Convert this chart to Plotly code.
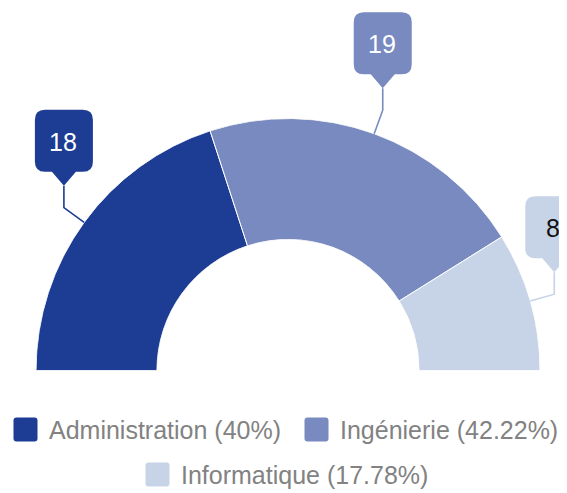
import math
import plotly.graph_objects as go

# ---- data ----
categories = ["Administration", "Ingénierie", "Informatique"]
values = [18, 19, 8]
colors = ["#1d3c94", "#788abf", "#c7d4e8"]
label_text_colors = ["#ffffff", "#ffffff", "#111111"]

# page is 567x493; the page body adds an 8px offset, so figure pixel 0 sits at page pixel 8
OFF = 8
PW, PH = 567, 493
W, H = PW - OFF, PH - OFF
total = sum(values)

# half-donut geometry (page pixels)
cx, cy = 288.0, 370.5
R = 252.0
hole = 0.52

# angular positions derived from the data (0 = left, clockwise over the top, 180 = right)
cum = []
s = 0
for v in values:
    s += v
    cum.append(s)
thetas = [(c - v / 2) / total * 180 for c, v in zip(cum, values)]
widths = [v / total * 180 for v in values]

fig = go.Figure()
fig.add_trace(go.Barpolar(
    r=[1] * len(values),
    theta=thetas,
    width=widths,
    marker=dict(color=colors, line=dict(color="white", width=1)),
    hoverinfo="skip",
    showlegend=False,
))

# hidden pixel-space cartesian axes (page pixels) for callouts and legend
fig.add_trace(go.Scatter(x=[OFF, OFF + W], y=[OFF, OFF + H], mode="markers",
                         marker=dict(opacity=0), hoverinfo="skip", showlegend=False))

shapes = []
annotations = []
font_family = "Liberation Sans, Arial, sans-serif"

# callouts
ext, vert, ptr, bh, bw, rad, phw = 25, 22, 14, 62, 58, 10, 12
for t, v, col, tc in zip(thetas, values, colors, label_text_colors):
    phi = math.radians(180 - t)
    ax_ = cx + R * math.cos(phi)
    ay_ = cy - R * math.sin(phi)
    ex = cx + (R + ext) * math.cos(phi)
    ey = cy - (R + ext) * math.sin(phi)
    apex = ey - vert
    bot = apex - ptr
    top = bot - bh
    x0, x1 = ex - bw / 2, ex + bw / 2
    shapes.append(dict(type="path", xref="x", yref="y",
                       path=f"M{ax_},{ay_} L{ex},{ey} L{ex},{apex}",
                       line=dict(color=col, width=1.6)))
    p = (f"M{x0+rad},{top} L{x1-rad},{top} Q{x1},{top} {x1},{top+rad} "
         f"L{x1},{bot-rad} Q{x1},{bot} {x1-rad},{bot} L{ex+phw},{bot} "
         f"L{ex},{apex} L{ex-phw},{bot} L{x0+rad},{bot} Q{x0},{bot} {x0},{bot-rad} "
         f"L{x0},{top+rad} Q{x0},{top} {x0+rad},{top} Z")
    shapes.append(dict(type="path", xref="x", yref="y", path=p,
                       fillcolor=col, line=dict(width=0)))
    annotations.append(dict(x=ex - 1, y=top + 32, xref="x", yref="y", text=str(v),
                            showarrow=False, xanchor="center", yanchor="middle",
                            font=dict(family=font_family, size=25, color=tc)))

# legend (manual)
def pct(v):
    return f"{v / total * 100:.2f}".rstrip("0").rstrip(".") + "%"

legend_pos = [(13.5, 429.5), (304.5, 429.5), (145.5, 474.5)]
ms = 24
for (lx, ly), name, v, col in zip(legend_pos, categories, values, colors):
    r2 = 3
    x0, x1, y0, y1 = lx, lx + ms, ly - ms / 2, ly + ms / 2
    shapes.append(dict(type="path", xref="x", yref="y",
                       path=(f"M{x0+r2},{y0} L{x1-r2},{y0} Q{x1},{y0} {x1},{y0+r2} "
                             f"L{x1},{y1-r2} Q{x1},{y1} {x1-r2},{y1} L{x0+r2},{y1} "
                             f"Q{x0},{y1} {x0},{y1-r2} L{x0},{y0+r2} Q{x0},{y0} {x0+r2},{y0} Z"),
                       fillcolor=col, line=dict(width=0)))
    annotations.append(dict(x=x1 + 9, y=ly, xref="x", yref="y",
                            text=f"{name} ({pct(v)})", showarrow=False,
                            xanchor="left", yanchor="middle",
                            font=dict(family=font_family, size=25, color="#828282")))

fig.update_layout(
    width=W, height=H, autosize=False,
    margin=dict(l=0, r=0, t=0, b=0),
    paper_bgcolor="white", plot_bgcolor="rgba(0,0,0,0)",
    showlegend=False,
    polar=dict(
        domain=dict(x=[(cx - R - OFF) / W, (cx + R - OFF) / W],
                    y=[1 - (cy - OFF) / H, 1 - (cy - R - OFF) / H]),
        sector=[0, 180],
        hole=hole,
        bgcolor="rgba(0,0,0,0)",
        bargap=0,
        radialaxis=dict(range=[0, 1], visible=False, showgrid=False, showline=False, showticklabels=False, ticks=""),
        angularaxis=dict(direction="clockwise", rotation=180, thetaunit="degrees",
                         visible=False, showgrid=False, showline=False, showticklabels=False, ticks=""),
    ),
    xaxis=dict(range=[OFF, OFF + W], visible=False, domain=[0, 1], fixedrange=True),
    yaxis=dict(range=[OFF + H, OFF], visible=False, domain=[0, 1], fixedrange=True),
    shapes=shapes,
    annotations=annotations,
)

fig.write_html("out.html")
